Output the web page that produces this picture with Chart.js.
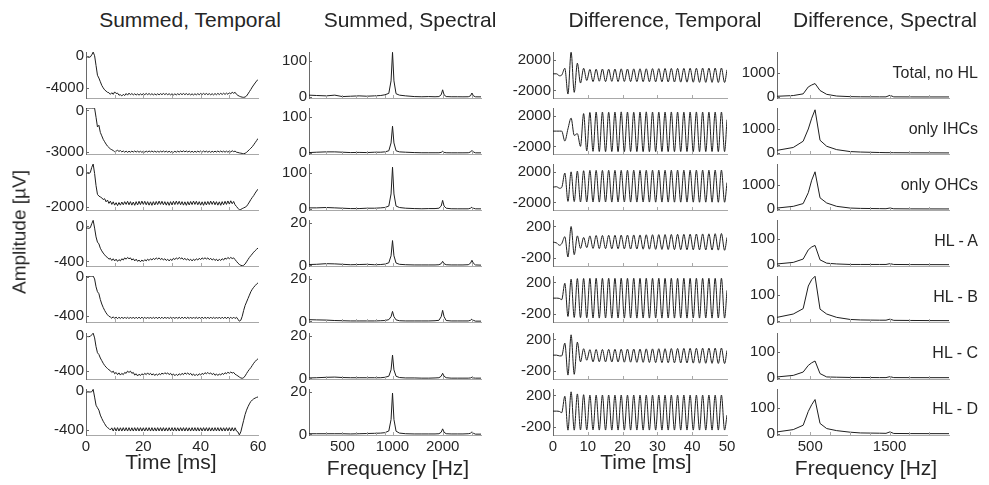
<!DOCTYPE html>
<html><head><meta charset="utf-8">
<script src="https://cdn.jsdelivr.net/npm/chart.js@4.4.1/dist/chart.umd.min.js"></script>
<style>
html,body{margin:0;padding:0;background:#fff;}
#fig{position:relative;width:989px;height:485px;overflow:hidden;font-family:"Liberation Sans",Arial,Helvetica,sans-serif;color:#262626;background:#fff;}
#fig canvas{position:absolute;}
.t{position:absolute;white-space:nowrap;line-height:1;}
</style></head><body><div id="fig"></div>
<script>
// ---------------- DATA ----------------
const COLUMN_TITLES = ['Summed, Temporal','Summed, Spectral','Difference, Temporal','Difference, Spectral'];
const ROW_LABELS = ['Total, no HL','only IHCs','only OHCs','HL - A','HL - B','HL - C','HL - D'];
const X_TITLES = ['Time [ms]','Frequency [Hz]','Time [ms]','Frequency [Hz]'];
const Y_TITLE = 'Amplitude [\u00b5V]';

// Summed, temporal (time in ms)
const TIME_SUM = [0,0.5,1,1.5,2,2.5,3,3.5,4,4.5,5,5.5,6,6.5,7,7.5,8,8.5,9,9.5,10,10.5,11,11.5,12,12.5,13,13.5,14,14.5,15,15.5,16,16.5,17,17.5,18,18.5,19,19.5,20,20.5,21,21.5,22,22.5,23,23.5,24,24.5,25,25.5,26,26.5,27,27.5,28,28.5,29,29.5,30,30.5,31,31.5,32,32.5,33,33.5,34,34.5,35,35.5,36,36.5,37,37.5,38,38.5,39,39.5,40,40.5,41,41.5,42,42.5,43,43.5,44,44.5,45,45.5,46,46.5,47,47.5,48,48.5,49,49.5,50,50.5,51,51.5,52,52.5,53,53.5,54,54.5,55,55.5,56,56.5,57,57.5,58,58.5,59,59.5,60];
const S_TOTAL = [-120,-150,-200,-150,100,450,0,-1200,-2400,-2750,
 -3200,-3650,-3950,-4200,-4350,-4500,-4550,-4750,-4550,-4750,
 -4450,-4650,-4600,-4850,-4800,-4950,-4750,-4900,-4650,-4850,
 -4600,-4800,-4650,-4820,-4680,-4830,-4700,-4850,-4690,-4820,
 -4660,-4800,-4640,-4790,-4650,-4800,-4670,-4820,-4690,-4830,
 -4680,-4810,-4660,-4790,-4640,-4780,-4650,-4800,-4670,-4820,
 -4680,-4830,-4690,-4820,-4670,-4800,-4650,-4790,-4640,-4790,
 -4650,-4800,-4670,-4820,-4690,-4830,-4680,-4810,-4660,-4800,
 -4640,-4780,-4630,-4780,-4640,-4790,-4660,-4810,-4670,-4820,
 -4650,-4800,-4630,-4780,-4620,-4770,-4610,-4760,-4600,-4750,
 -4560,-4700,-4480,-4620,-4500,-4750,-4880,-4980,-5050,-5100,
 -5120,-5080,-4950,-4700,-4420,-4150,-3850,-3600,-3350,-3120,
 -2920];
const S_IHC = [170,170,175,170,170,170,160,-500,-1200,-1080,
 -1600,-1850,-2100,-2280,-2450,-2600,-2700,-2800,-2860,-2920,
 -3000,-2960,-2900,-2980,-2920,-3020,-2950,-3040,-2960,-3050,
 -2970,-3040,-2960,-3030,-2950,-3030,-2960,-3040,-2970,-3050,
 -2970,-3040,-2960,-3030,-2950,-3020,-2950,-3030,-2960,-3040,
 -2970,-3040,-2960,-3030,-2950,-3030,-2960,-3040,-2970,-3050,
 -2980,-3050,-2970,-3040,-2960,-3030,-2950,-3020,-2940,-3020,
 -2950,-3030,-2960,-3040,-2970,-3050,-2970,-3040,-2960,-3030,
 -2950,-3030,-2950,-3030,-2960,-3040,-2970,-3050,-2970,-3040,
 -2960,-3030,-2950,-3030,-2950,-3030,-2960,-3040,-2960,-3040,
 -2950,-3030,-2930,-3000,-2960,-3040,-3060,-3090,-3110,-3130,
 -3150,-3120,-3050,-2950,-2850,-2750,-2640,-2500,-2350,-2200,
 -2040];
const S_OHC = [-60,-80,-100,-50,250,440,-100,-800,-1300,-1400,
 -1450,-1500,-1600,-1550,-1730,-1630,-1820,-1690,-1880,-1730,
 -1920,-1780,-1950,-1770,-1920,-1740,-1900,-1720,-1880,-1700,
 -1900,-1720,-1920,-1740,-1930,-1720,-1910,-1700,-1890,-1690,
 -1880,-1700,-1900,-1720,-1920,-1730,-1930,-1720,-1910,-1710,
 -1890,-1690,-1880,-1700,-1900,-1720,-1920,-1730,-1930,-1720,
 -1910,-1700,-1890,-1690,-1880,-1700,-1900,-1720,-1920,-1730,
 -1930,-1720,-1910,-1710,-1890,-1690,-1880,-1700,-1900,-1720,
 -1920,-1730,-1930,-1720,-1910,-1710,-1890,-1690,-1880,-1700,
 -1900,-1720,-1920,-1730,-1930,-1720,-1900,-1700,-1880,-1680,
 -1860,-1670,-1840,-1710,-1900,-2000,-2100,-2190,-2170,-2120,
 -2080,-2040,-1990,-1870,-1740,-1600,-1480,-1370,-1230,-1110,
 -1000];
const S_A = [-19,-20,-22,-15,30,69,-20,-120,-180,-200,
 -250,-280,-305,-325,-345,-355,-375,-365,-390,-370,
 -395,-375,-400,-380,-395,-370,-385,-360,-375,-355,
 -370,-360,-385,-370,-395,-375,-400,-385,-405,-385,
 -400,-380,-395,-375,-390,-370,-385,-365,-380,-360,
 -375,-360,-380,-365,-385,-370,-390,-375,-395,-375,
 -390,-365,-380,-360,-375,-355,-370,-360,-380,-365,
 -385,-370,-390,-375,-395,-375,-390,-370,-385,-365,
 -380,-360,-375,-358,-375,-360,-380,-365,-385,-370,
 -390,-375,-395,-375,-390,-370,-385,-362,-375,-355,
 -370,-355,-368,-360,-380,-400,-420,-435,-445,-450,
 -445,-430,-405,-380,-355,-335,-315,-295,-278,-262,
 -248];
const S_B = [7,7,7,7,8,9,-20,-100,-150,-170,
 -230,-275,-310,-340,-365,-385,-400,-407,-420,-405,
 -422,-408,-424,-409,-423,-408,-424,-408,-423,-409,
 -424,-408,-423,-408,-424,-409,-423,-408,-424,-408,
 -423,-409,-424,-408,-423,-408,-424,-409,-423,-408,
 -424,-408,-423,-409,-424,-408,-423,-408,-424,-409,
 -423,-408,-424,-408,-423,-409,-424,-408,-423,-408,
 -424,-409,-423,-408,-424,-408,-423,-409,-424,-408,
 -423,-408,-424,-409,-423,-408,-424,-408,-423,-409,
 -424,-408,-423,-408,-424,-409,-423,-408,-424,-408,
 -423,-409,-424,-408,-423,-410,-430,-450,-440,-400,
 -340,-290,-255,-220,-185,-150,-125,-105,-88,-72,
 -60];
const S_C = [-4,-5,-6,-2,15,34,-20,-120,-190,-210,
 -250,-280,-310,-335,-355,-370,-385,-395,-415,-400,
 -430,-415,-440,-420,-445,-425,-440,-415,-425,-400,
 -415,-400,-425,-415,-445,-430,-455,-435,-450,-430,
 -445,-425,-440,-420,-440,-425,-445,-430,-450,-432,
 -448,-428,-442,-422,-435,-418,-432,-420,-440,-425,
 -448,-432,-452,-435,-450,-430,-445,-425,-440,-420,
 -435,-420,-440,-425,-448,-432,-452,-435,-450,-430,
 -445,-425,-438,-418,-430,-415,-432,-420,-440,-425,
 -448,-432,-450,-432,-445,-425,-438,-418,-430,-412,
 -425,-410,-422,-415,-435,-445,-455,-468,-478,-482,
 -475,-455,-428,-402,-380,-360,-335,-310,-290,-272,
 -259];
const S_D = [-7,-7,-7,-7,-5,20,-60,-144,-170,-195,
 -246,-280,-310,-335,-360,-376,-385,-400,-378,-411,
 -376,-411,-376,-411,-377,-411,-376,-410,-376,-411,
 -376,-411,-377,-411,-376,-410,-376,-411,-376,-411,
 -377,-411,-376,-410,-376,-411,-376,-411,-377,-411,
 -376,-410,-376,-411,-376,-411,-377,-411,-376,-410,
 -376,-411,-376,-411,-377,-411,-376,-410,-376,-411,
 -376,-411,-377,-411,-376,-410,-376,-411,-376,-411,
 -377,-411,-376,-410,-376,-411,-376,-411,-377,-411,
 -376,-410,-376,-411,-376,-411,-377,-411,-376,-410,
 -376,-411,-376,-411,-377,-411,-420,-451,-420,-360,
 -300,-240,-195,-160,-130,-105,-90,-78,-70,-63,
 -58];

// Summed, spectral (Hz)
const FREQ_SUM = [315,350,400,450,500,560,630,700,780,850,900,950,980,1000,1020,1050,1100,1200,1350,1500,1650,1800,1900,1960,2000,2040,2100,2250,2450,2650,2850,2940,3000,3060,3150,3400];
const SP_TOTAL = [5,4,3,5,1,2,3,2,3,4, 6,10,45,125,45,9,5,3,1,0.5, 1,0.5,1,6,20,6,1,0.5,0.5,0.3, 0.5,3,11,3,0.3,0.2];
const SP_IHC = [1,2,3,3,2,1,1.5,1,2,2, 3,6,28,75,28,6,3,2,1,0.5, 0.5,0.5,0.5,1.5,4.5,1.5,0.5,0.3,0.3,0.3, 0.5,2.5,7,2.5,0.3,0.2];
const SP_OHC = [3,3,4,3,2,1,1,2,2,3, 4,8,42,117,42,8,4,2,1,0.5, 1,1,2,8,24,8,2,0.5,0.3,0.3, 0.3,2,5,2,0.3,0.2];
const SP_A = [0.4,0.5,0.8,0.7,0.5,0.3,0.4,0.5,0.3,0.4, 0.6,1.2,4.5,11.7,4.5,1.1,0.5,0.3,0.2,0.2, 0.2,0.2,0.3,0.8,1.9,0.8,0.3,0.2,0.2,0.2, 0.3,1,2.4,1,0.2,0.1];
const SP_B = [0.8,0.7,0.6,0.4,0.3,0.2,0.2,0.2,0.2,0.3, 0.4,0.8,2.2,4.7,2.2,0.7,0.3,0.2,0.2,0.2, 0.2,0.3,0.5,2.2,5.2,2.2,0.4,0.2,0.2,0.2, 0.2,0.5,1.1,0.5,0.1,0.1];
const SP_C = [0.2,0.3,0.5,0.6,0.4,0.3,0.3,0.3,0.3,0.3, 0.5,1,4,11,4,1,0.4,0.2,0.2,0.1, 0.1,0.2,0.3,1,2.4,1,0.3,0.1,0.1,0.1, 0.1,0.2,0.5,0.2,0.1,0.1];
const SP_D = [0.3,0.3,0.3,0.3,0.3,0.2,0.3,0.4,0.5,0.6, 0.8,1.6,7,19.5,7,1.5,0.6,0.3,0.2,0.2, 0.2,0.2,0.3,1,2.6,1,0.3,0.2,0.2,0.2, 0.3,0.5,1.2,0.5,0.1,0.1];

// Difference, temporal (time in ms, peaks and troughs)
const TIME_DIFF = [0,1,1.9,2.5,3.4,4.3,5.2,6.1,7,7.9,8.8,9.7,10.6,11.5,12.4,13.3,14.2,15.1,16,16.9,17.8,18.7,19.6,20.5,21.4,22.3,23.2,24.1,25,25.9,26.8,27.7,28.6,29.5,30.4,31.3,32.2,33.1,34,34.9,35.8,36.7,37.6,38.5,39.4,40.3,41.2,42.1,43,43.9,44.8,45.7,46.6,47.5,48.4,49.3,50];
const D_TOTAL = [170,170,-90,0, 900,-2480,3000,-2260,1560,-1040,900,-700, 750,-850,780,-800,800,-850,780,-820, 800,-850,820,-830,800,-850,820,-850, 830,-860,830,-870,850,-880,850,-880, 870,-900,870,-900,880,-920,880,-920, 900,-930,900,-950,920,-950,920,-950, 930,-960,930,-960, 700];
const D_IHC = [0,0,0,0, -1300,300,1700,-560,-340,-2000,2300,-2600, 2450,-2650,2500,-2680,2500,-2700,2480,-2680, 2500,-2700,2520,-2700,2500,-2680,2480,-2690, 2500,-2700,2520,-2710,2500,-2690,2490,-2680, 2500,-2700,2510,-2700,2500,-2690,2490,-2680, 2500,-2700,2510,-2710,2500,-2690,2490,-2680, 2500,-2700,2500,-2690, 1500];
const D_OHC = [0,50,-150,-50, 1850,-1870,2000,-1900,2100,-1950,2150,-1950, 2200,-1950,2200,-1960,2200,-1950,2210,-1960, 2200,-1950,2200,-1950,2210,-1960,2220,-1960, 2200,-1950,2210,-1960,2220,-1970,2220,-1960, 2210,-1960,2220,-1970,2230,-1970,2220,-1960, 2220,-1970,2230,-1980,2230,-1970,2220,-1970, 2230,-1980,2230,-1980, 600];
const D_A = [0,-10,-40,-20, 70,-190,200,-160,80,-80,60,-70, 80,-80,85,-82,85,-83,88,-85, 88,-85,90,-86,90,-88,92,-88, 92,-90,94,-90,95,-92,96,-93, 97,-94,98,-95,100,-96,100,-97, 102,-98,104,-99,105,-100,106,-101, 108,-102,110,-104, 60];
const D_B = [0,0,-5,-20, 190,-234,243,-247,250,-250,252,-252, 254,-254,255,-255,254,-254,255,-255, 254,-254,255,-255,254,-254,255,-255, 254,-254,255,-255,254,-254,255,-255, 254,-254,255,-255,254,-254,255,-255, 254,-254,255,-255,254,-254,255,-255, 254,-254,255,-255, 100];
const D_C = [0,0,-10,-10, 154,-255,260,-245,166,-86,82,-65, 70,-86,72,-85,72,-86,74,-88, 75,-88,76,-90,77,-90,78,-92, 78,-92,80,-94,80,-95,82,-96, 82,-97,84,-98,85,-100,86,-100, 87,-102,88,-103,89,-104,90,-105, 90,-106,91,-107, 60];
const D_D = [0,0,-5,-20, 190,-243,247,-243,220,-240,210,-240, 205,-240,205,-242,206,-242,206,-242, 205,-242,206,-242,205,-242,206,-242, 205,-242,206,-242,205,-242,206,-242, 205,-242,206,-242,205,-242,206,-242, 205,-242,206,-242,205,-242,206,-242, 205,-242,206,-242, -50];

// Difference, spectral (Hz)
const FREQ_DIFF = [80,285,410,475,518,560,623,707,833,1001,1134,1373,1455,1505,1553,1765,2005,2250];
const SD_TOTAL = [30,60,130,420,500,560,270,110,40,15,8,5,5,70,5,3,2,2];
const SD_IHC = [110,230,490,1000,1450,1800,530,280,140,60,40,20,15,15,12,8,5,3];
const SD_OHC = [40,110,225,680,1200,1550,465,250,110,40,25,15,12,40,10,5,3,2];
const SD_A = [3,9,22,58,69,75,19,6,3,1,1,1,1,4,1,0.5,0.3,0.2];
const SD_B = [13,26,47,135,160,173,45,26,13,5,3,2,2,6,1.5,1,0.5,0.3];
const SD_C = [3,9,22,48,58,65,16,3,2,1,1,0.5,0.5,4,0.5,0.3,0.2,0.2];
const SD_D = [7,16,33,87,113,133,40,20,12,6,3,2,1.5,7,1,0.5,0.3,0.2];

// Axis ranges and ticks
const Y_RANGE_SUM = [[-5200,460],[-3170,175],[-2200,445],[-453,73],[-458,10],[-490,36],[-452,24]];
const Y_TICKS_SUM = [[-4000,0],[-3000,0],[-2000,0],[-400,0],[-400,0],[-400,0],[-400,0]];
const Y_RANGE_SP = [[-3,126],[-3,126],[-3,126],[-0.3,21.4],[-0.3,21.4],[-0.3,21.4],[-0.3,21.4]];
const Y_TICKS_SP = [[0,100],[0,100],[0,100],[0,20],[0,20],[0,20],[0,20]];
const Y_RANGE_D = [[-3000,3030],[-3000,3030],[-3000,3030],[-305,283],[-305,283],[-305,283],[-305,283]];
const Y_TICKS_D = [[-2000,2000],[-2000,2000],[-2000,2000],[-200,200],[-200,200],[-200,200],[-200,200]];
const Y_RANGE_SD = [[-42,1875],[-42,1875],[-42,1875],[-5,174],[-5,174],[-5,174],[-5,174]];
const Y_TICKS_SD = [[0,1000],[0,1000],[0,1000],[0,100],[0,100],[0,100],[0,100]];
const X_TICKS_SUM = [0,20,40,60];
const X_MINOR_SUM = [10,20,30,40,50];
const X_TICKS_SP = [500,1000,2000];
const X_MINOR_SP = [400,500,600,700,800,900,1000,2000,3000];
const X_TICKS_D = [0,10,20,30,40,50];
const X_MINOR_D = [10,20,30,40];
const X_TICKS_SD = [500,1500];
const X_MINOR_SD = [250,500,750,1000,1250,1500,1750,2000];

// ---------------- DRAWING ----------------
const FONT = '"Liberation Sans", Arial, Helvetica, sans-serif';
const TXT = '#262626';
const LINE = '#1e1e1e';
const YAX = '#6a6a6a';
const XAX = '#a8a8a8';
const fig = document.getElementById('fig');

const COLS = [
  {left:86, width:172, type:'linear', min:0, max:60, x:TIME_SUM, ticks:X_TICKS_SUM, minor:X_MINOR_SUM,
   ys:[S_TOTAL,S_IHC,S_OHC,S_A,S_B,S_C,S_D], yr:Y_RANGE_SUM, yt:Y_TICKS_SUM, mono:false},
  {left:309, width:172, type:'logarithmic', min:315, max:3400, x:FREQ_SUM, ticks:X_TICKS_SP, minor:X_MINOR_SP,
   ys:[SP_TOTAL,SP_IHC,SP_OHC,SP_A,SP_B,SP_C,SP_D], yr:Y_RANGE_SP, yt:Y_TICKS_SP, mono:false},
  {left:553, width:174, type:'linear', min:0, max:50, x:TIME_DIFF, ticks:X_TICKS_D, minor:X_MINOR_D,
   ys:[D_TOTAL,D_IHC,D_OHC,D_A,D_B,D_C,D_D], yr:Y_RANGE_D, yt:Y_TICKS_D, mono:true},
  {left:777, width:172, type:'linear', min:80, max:2250, x:FREQ_DIFF, ticks:X_TICKS_SD, minor:X_MINOR_SD,
   ys:[SD_TOTAL,SD_IHC,SD_OHC,SD_A,SD_B,SD_C,SD_D], yr:Y_RANGE_SD, yt:Y_TICKS_SD, mono:false}
];
const ROW_TOP = 52, ROW_STEP = 56.1, PH = 46;

const inTicks = {
  id:'inTicks',
  afterDraw(chart, args, o) {
    const {ctx, chartArea:a, scales} = chart;
    ctx.save(); ctx.lineWidth = 1;
    ctx.strokeStyle = XAX; ctx.beginPath();
    (o.xt||[]).forEach(v => { const p = Math.round(scales.x.getPixelForValue(v)) + 0.5; ctx.moveTo(p, a.bottom); ctx.lineTo(p, a.bottom - 3); });
    ctx.stroke();
    ctx.strokeStyle = YAX; ctx.beginPath();
    (o.yt||[]).forEach(v => { const p = Math.round(scales.y.getPixelForValue(v)) + 0.5; ctx.moveTo(a.left, p); ctx.lineTo(a.left + 3, p); });
    ctx.stroke(); ctx.restore();
  }
};

function panel(c, r) {
  const col = COLS[c];
  const top = Math.round(ROW_TOP + r * ROW_STEP);
  const last = r === 6;
  const XH = last ? 26 : 4, PB = last ? 0 : 10, PT = 12, PR = 14, YW = 60;
  const W = YW + col.width + PR, H = PT + PH + XH + PB;
  const cv = document.createElement('canvas');
  cv.width = W; cv.height = H;
  cv.style.left = (col.left - YW) + 'px'; cv.style.top = (top - PT) + 'px';
  cv.style.width = W + 'px'; cv.style.height = H + 'px';
  fig.appendChild(cv);
  const ys = col.ys[r];
  const pts = col.x.map((x, i) => ({x: x, y: ys[i]}));
  const tickFont = {size:15, family:FONT};
  new Chart(cv, {
    type:'line',
    data:{datasets:[{data:pts, borderColor:LINE, borderWidth:1, pointRadius:0, fill:false,
      tension:0, cubicInterpolationMode: col.mono ? 'monotone' : 'default'}]},
    options:{
      responsive:false, animation:false, events:[], devicePixelRatio:1,
      layout:{padding:{left:0, top:PT, right:PR, bottom:PB}},
      plugins:{legend:{display:false}, tooltip:{enabled:false}, inTicks:{xt:col.minor, yt:col.yt[r]}},
      scales:{
        x:{type:col.type, min:col.min, max:col.max,
          grid:{display:false, drawTicks:false, tickLength:0}, border:{display:true, color:XAX, width:1},
          ticks:{display:last, autoSkip:false, maxRotation:0, minRotation:0, padding:3, font:tickFont, color:TXT,
                 callback:(v) => String(v)},
          afterBuildTicks:(s) => { s.ticks = col.ticks.map(v => ({value:v})); },
          afterFit:(s) => { s.height = XH; }},
        y:{type:'linear', min:col.yr[r][0], max:col.yr[r][1],
          grid:{display:false, drawTicks:false, tickLength:0}, border:{display:true, color:YAX, width:1},
          ticks:{autoSkip:false, padding:2, font:tickFont, color:TXT, callback:(v) => String(v)},
          afterBuildTicks:(s) => { s.ticks = col.yt[r].map(v => ({value:v})); },
          afterFit:(s) => { s.width = YW; }}
      }
    },
    plugins:[inTicks]
  });
}

for (let c = 0; c < 4; c++) for (let r = 0; r < 7; r++) panel(c, r);

function text(str, css) {
  const d = document.createElement('div');
  d.className = 't'; d.textContent = str;
  Object.assign(d.style, css);
  fig.appendChild(d);
  return d;
}
const TITLE_X = [190, 410, 665, 885];
COLUMN_TITLES.forEach((s, i) => text(s, {left:TITLE_X[i]+'px', top:'8.7px', fontSize:'21px', transform:'translateX(-50%)'}));
ROW_LABELS.forEach((s, r) => text(s, {right:'11px', top:(64.8 + r*ROW_STEP)+'px', fontSize:'16px'}));
const XT_X = [171, 398, 646, 866];
const XT_TOP = [450.7, 457.2, 450.7, 457.2];
X_TITLES.forEach((s, i) => text(s, {left:XT_X[i]+'px', top:XT_TOP[i]+'px', fontSize:'21px', transform:'translateX(-50%)'}));
text(Y_TITLE, {left:'18.5px', top:'232px', fontSize:'19px', transform:'translate(-50%,-50%) rotate(-90deg)'});
</script>
</body></html>
